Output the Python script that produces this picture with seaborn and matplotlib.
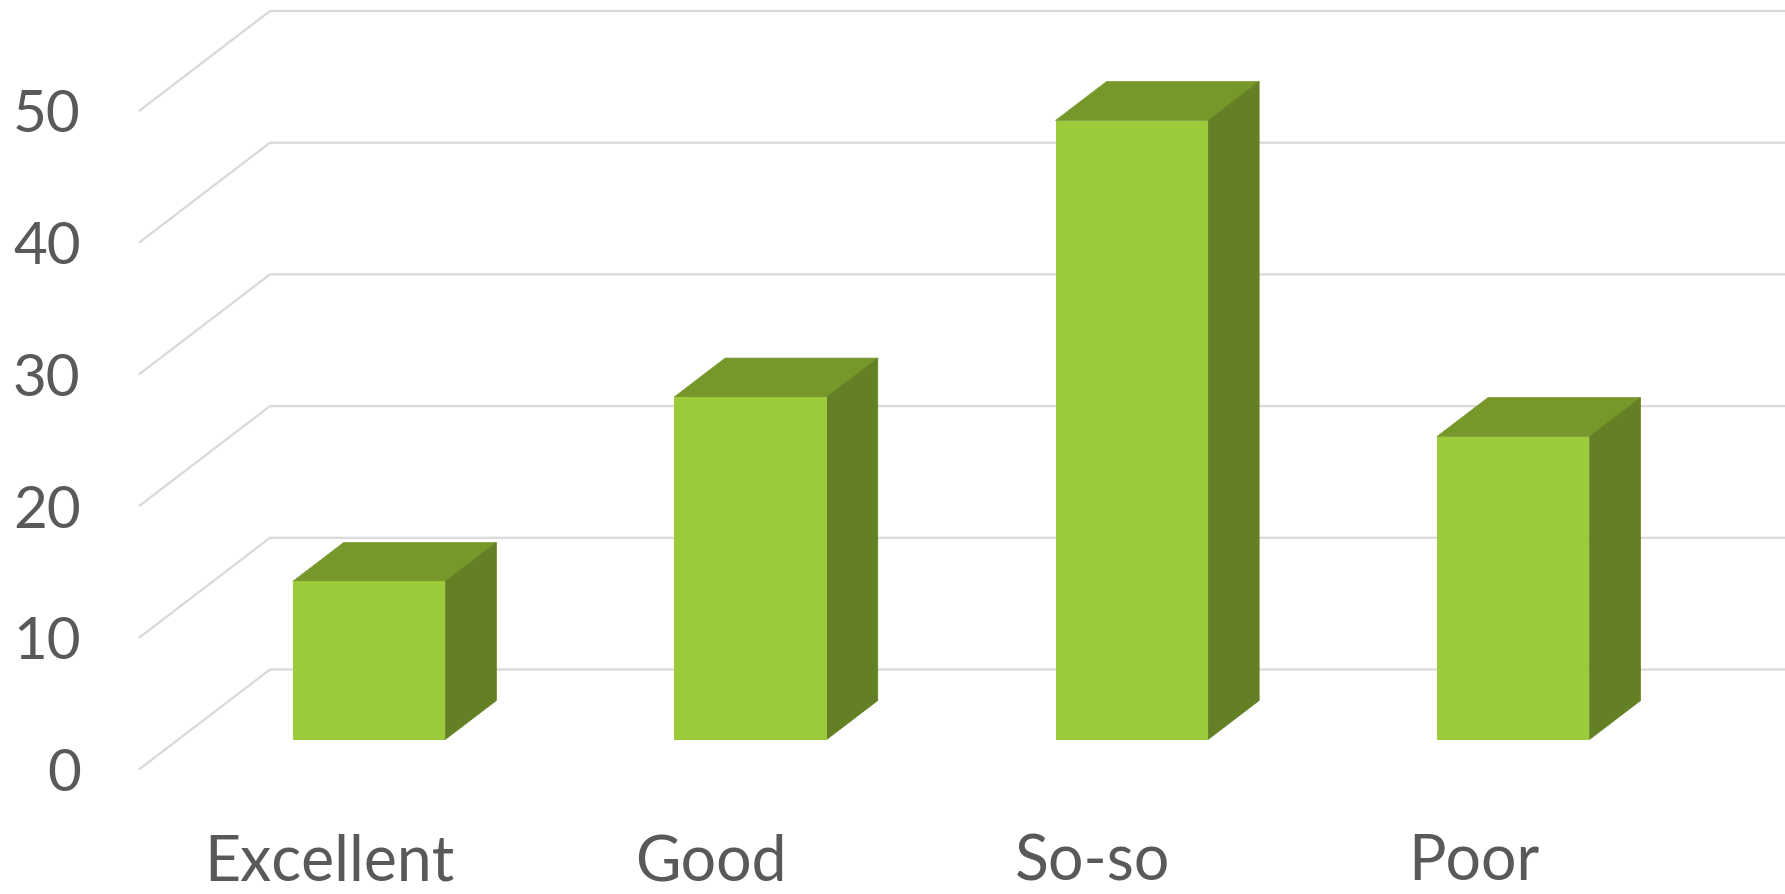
import matplotlib
matplotlib.use("Agg")
import matplotlib.pyplot as plt
import seaborn as sns
import pandas as pd
from matplotlib.patches import Polygon

# ---- data ----
categories = ["Excellent", "Good", "So-so", "Poor"]
values = [12, 26, 47, 23]
y_ticks = [0, 10, 20, 30, 40, 50]

# ---- style ----
FRONT = "#9BCB3B"
TOP = "#76982B"
SIDE = "#638024"
GRID = "#D9D9D9"
TEXT = "#595959"

sns.set_theme(style="white")
plt.rcParams["font.family"] = ["Lato", "DejaVu Sans"]

W, H, DPI = 1785, 894, 100
fig = plt.figure(figsize=(W / DPI, H / DPI), dpi=DPI)

# pixel geometry of the pseudo-3D projection
px_per_cat = 381.4
px_per_unit = 13.17
floor_left_px = 139.0
floor_front_y_px = 769.5          # from top, value 0 at depth 0
depth_dx_px, depth_dy_px = 131.0, 100.0
face_depth = 0.30                 # bar front face position within floor depth
bar_depth = 0.39                  # bar thickness as fraction of floor depth

# data-unit conversions
full_dx = depth_dx_px / px_per_cat
full_dy = depth_dy_px / px_per_unit
front_dx, front_dy = face_depth * full_dx, face_depth * full_dy
bar_dx, bar_dy = bar_depth * full_dx, bar_depth * full_dy

# axes in the bar-front-face plane: category i centre, value 0 at face plane
cat0_face_px = floor_left_px + px_per_cat / 2 + face_depth * depth_dx_px
face0_y_top = floor_front_y_px - face_depth * depth_dy_px
ax_left_px = floor_left_px
ax_bottom_px = H - floor_front_y_px
ax = fig.add_axes([ax_left_px / W, ax_bottom_px / H,
                   (W - ax_left_px) / W, (H - ax_bottom_px) / H])

df = pd.DataFrame({"category": categories, "value": values})
sns.barplot(data=df, x="category", y="value", color=FRONT, saturation=1,
            width=0.4, errorbar=None, ax=ax, zorder=3, linewidth=0)

xmin = (ax_left_px - cat0_face_px) / px_per_cat
xmax = (W - cat0_face_px) / px_per_cat
ymin = ((H - floor_front_y_px) - (H - face0_y_top)) / px_per_unit
ymax = (H - (H - face0_y_top)) / px_per_unit
ax.set_xlim(xmin, xmax)
ax.set_ylim(ymin, ymax)

# gridlines: diagonal on the side wall, horizontal on the back wall
for v in y_ticks:
    x_front, y_front = xmin, v - front_dy
    x_back, y_back = xmin + full_dx, v - front_dy + full_dy
    ax.plot([x_front, x_back, xmax], [y_front, y_back, y_back],
            color=GRID, lw=1.6, zorder=1, solid_capstyle="butt",
            clip_on=False)

# 3D faces for each bar
for p in list(ax.patches):
    x0, w, h = p.get_x(), p.get_width(), p.get_height()
    top = Polygon([(x0, h), (x0 + w, h), (x0 + w + bar_dx, h + bar_dy),
                   (x0 + bar_dx, h + bar_dy)], closed=True,
                  facecolor=TOP, edgecolor=TOP, lw=0.5, zorder=2)
    side = Polygon([(x0 + w, 0), (x0 + w + bar_dx, bar_dy),
                    (x0 + w + bar_dx, h + bar_dy), (x0 + w, h)], closed=True,
                   facecolor=SIDE, edgecolor=SIDE, lw=0.5, zorder=2)
    ax.add_patch(top)
    ax.add_patch(side)

# ticks located on the front floor plane
ax.set_yticks([v - front_dy for v in y_ticks], labels=[str(v) for v in y_ticks])
ax.set_xticks([i - front_dx for i in range(len(categories))], labels=categories)
ax.tick_params(axis="y", length=0, pad=42, labelsize=42, labelcolor=TEXT)
ax.tick_params(axis="x", length=0, pad=46, labelsize=45, labelcolor=TEXT)
ax.set_xlabel("")
ax.set_ylabel("")
for s in ax.spines.values():
    s.set_visible(False)
ax.set_facecolor("white")
fig.patch.set_facecolor("white")

fig.savefig("out.png", dpi=DPI, facecolor="white")
